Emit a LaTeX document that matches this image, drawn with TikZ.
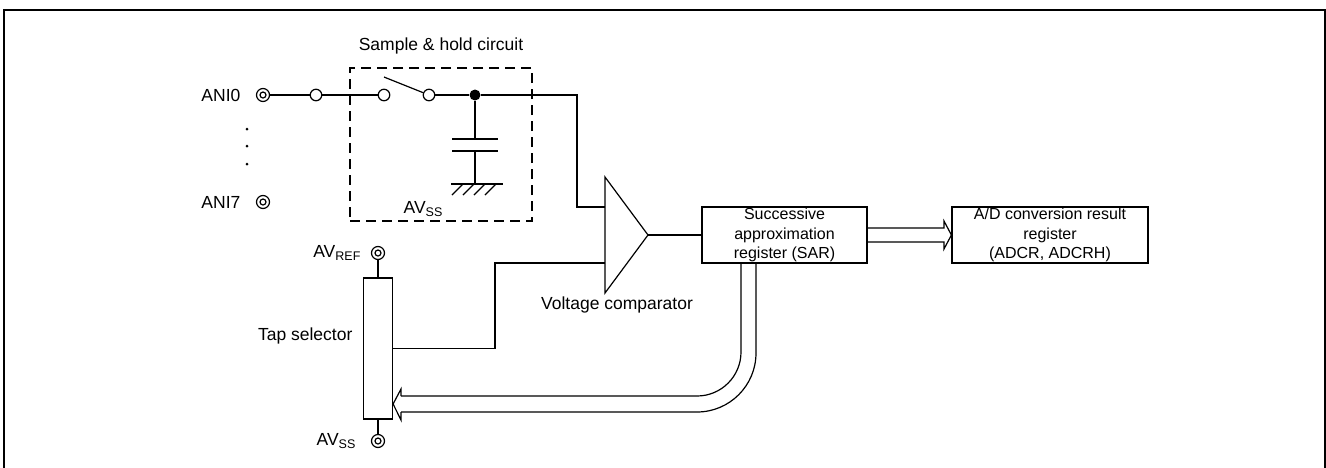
\documentclass[tikz,border=0pt]{standalone}
\usepackage{fontspec}
\setmainfont{Liberation Sans}
\usetikzlibrary{positioning,calc}

\tikzset{
  lbl/.style={inner sep=0pt,font=\fontsize{17.5}{21}\selectfont},
  reg/.style={draw,inner sep=0pt,align=center,font=\fontsize{16}{19.5}\selectfont},
}
\newcommand{\lsub}[1]{\raisebox{-0.3ex}{\fontsize{12.5}{14}\selectfont #1}}

\begin{document}
\begin{tikzpicture}[x=1pt,y=-1pt,line width=1.2pt]
  \useasboundingbox (0,0) rectangle (1326,467);
  \draw[line width=1.8pt] (4,480) -- (4,10) -- (1325,10) -- (1325,480);

  % sample & hold
  \node[draw,dash pattern=on 10pt off 6pt,minimum width=182pt,minimum height=153pt,inner sep=0pt] (SH) at (441,144.5) {};
  \node[lbl] (SHlbl) at (441,46) {Sample \& hold circuit};

  \begin{scope}[every node/.style={circle,draw,minimum size=13pt,inner sep=0pt,
      path picture={\draw (path picture bounding box.center) circle (3pt);}}]
    \node (ANI0) at (263,95) {};
    \node (ANI7) at (263,202) {};
    \node (AVREF) at (378,253) {};
    \node (AVSS) at (378,441) {};
  \end{scope}

  \begin{scope}[every node/.style={circle,draw,fill=white,minimum size=11.5pt,inner sep=0pt}]
    \node (C1) at (316,95) {};
    \node (C2) at (384,95) {};
    \node (C3) at (429,95) {};
  \end{scope}
  \node[circle,fill,minimum size=11pt,inner sep=0pt] (HOLD) at (475,95) {};

  \node[lbl,anchor=east] (ANI0lbl) at (241,95) {ANI0};
  \node[lbl,anchor=east] (ANI7lbl) at (241,202) {ANI7};
  \node[lbl,anchor=east] (AVREFlbl) at (361,253) {AV\lsub{REF}};
  \node[lbl,anchor=east] (AVSSlbl) at (356,441) {AV\lsub{SS}};
  \node[lbl,anchor=east] (TAPlbl) at (353,336) {Tap selector};
  \node[lbl] (CMPlbl) at (617,305) {Voltage comparator};
  \node[lbl] (GNDlbl) at (423,209) {AV\lsub{SS}};

  \foreach \dy in {129,146,164} \fill (247,\dy) circle (1.5pt);

  % switch and hold capacitor
  \coordinate (BLADE) at (384,77);
  \coordinate (K1) at (577,95);
  \coordinate (INP) at (605,207);
  \coordinate (INM) at (605,263);
  \coordinate (OUT) at (648,235);
  \draw (ANI0) -- (C1) -- (C2);
  \draw (BLADE) -- (C3);
  \draw (C3) -- (HOLD) -- (K1) |- (INP);

  \coordinate (CAPT) at (475,139);
  \coordinate (CAPB) at (475,151);
  \coordinate (GND) at (475,184);
  \draw (HOLD) -- (CAPT);
  \draw ([xshift=-23pt]CAPT) -- ([xshift=23pt]CAPT);
  \draw ([xshift=-23pt]CAPB) -- ([xshift=23pt]CAPB);
  \draw (CAPB) -- (GND);
  \draw ([xshift=-24pt]GND) -- ([xshift=28pt]GND);
  \foreach \hx in {-12,-1,10,21} \draw ([xshift=\hx pt]GND) -- ++(-11,11);

  % comparator
  \draw (605,177) -- (OUT) -- (605,293) -- cycle;

  \node[reg,minimum width=165pt,minimum height=56pt] (SAR) at (784.5,235) {Successive\\approximation\\register (SAR)};
  \node[reg,minimum width=196pt,minimum height=56pt] (ADCR) at (1050,235) {A/D conversion result\\register\\(ADCR, ADCRH)};
  \draw (OUT) -- (SAR);
  \draw ($(SAR.east)+(0,-7)$) -- (944,228) -- (944,221) -- (ADCR.west)
    -- (944,249) -- (944,242) -- ($(SAR.east)+(0,7)$);

  % tap selector
  \node[draw,minimum width=29pt,minimum height=141pt,inner sep=0pt] (TAP) at (378,348.5) {};
  \draw (AVREF) -- (TAP);
  \draw (TAP) -- (AVSS);
  \coordinate (K2) at (495,263);
  \draw (TAP.east) -| (K2) -- (INM);

  % bus back to tap selector
  \coordinate (BI) at (741,263);
  \coordinate (BO) at (756,263);
  \coordinate (HI) at (401,396);
  \coordinate (HO) at (401,412);
  \draw[rounded corners=44pt] (BI) |- (HI);
  \draw[rounded corners=59pt] (BO) |- (HO);
  \draw (HI) -- (401,389) -- (TAP.east |- 0,404) -- (401,420) -- (HO);
\end{tikzpicture}
\end{document}
